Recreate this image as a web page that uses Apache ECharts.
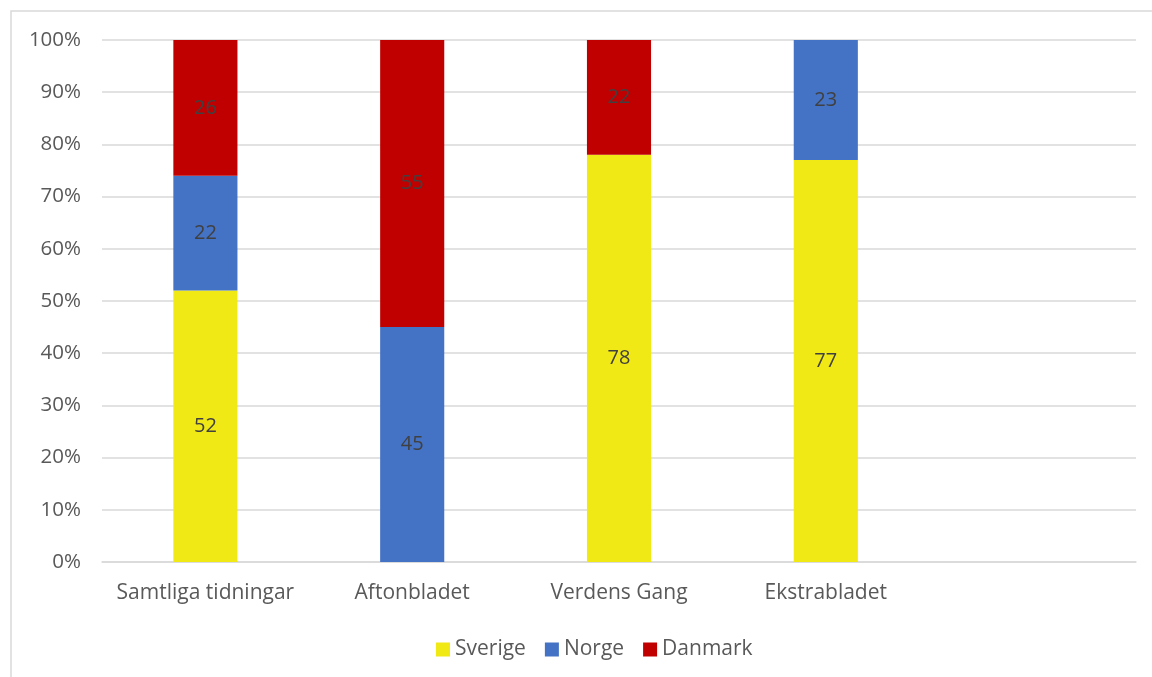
<!DOCTYPE html>
<html><head><meta charset="utf-8">
<script src="https://cdn.jsdelivr.net/npm/echarts@6/dist/echarts.min.js"></script>
<style>html,body{margin:0;padding:0;background:#fff;}#c{width:1152px;height:677px;}</style>
</head><body><div id="c"></div>
<script>
const categories = ['Samtliga tidningar', 'Aftonbladet', 'Verdens Gang', 'Ekstrabladet', ''];
const sverige = [52, null, 78, 77, null];
const norge = [22, 45, null, 23, null];
const danmark = [26, 55, 22, null, null];
const yTicks = [0, 10, 20, 30, 40, 50, 60, 70, 80, 90, 100];

const FONT = '"Open Sans", Lato, sans-serif';
const chart = echarts.init(document.getElementById('c'), null, {renderer: 'canvas'});
function mk(name, data, color) {
  return {
    name, type: 'bar', stack: 'a', data, barWidth: '31%',
    itemStyle: {color},
    label: {show: true, position: 'inside', color: '#404040', fontSize: 20, fontFamily: FONT,
      formatter: p => (p.value == null ? '' : p.value)}
  };
}
chart.setOption({
  animation: false,
  backgroundColor: '#fff',
  graphic: [{type: 'rect', shape: {x: 11, y: 11, width: 1160, height: 700},
    style: {fill: 'none', stroke: '#d9d9d9', lineWidth: 1.5}, silent: true}],
  grid: {left: 102, right: 16, top: 40, bottom: 115},
  legend: {left: 431, top: 634, itemWidth: 14, itemHeight: 14, itemGap: 19, icon: 'rect',
    textStyle: {color: '#595959', fontSize: 21, fontFamily: FONT, padding: [0, 0, 0, 0]},
    data: ['Sverige', 'Norge', 'Danmark']},
  xAxis: {type: 'category', data: categories,
    axisLine: {lineStyle: {color: '#d9d9d9', width: 1.5}}, axisTick: {show: false},
    axisLabel: {color: '#595959', fontSize: 21, fontFamily: FONT, margin: 21, interval: 0}},
  yAxis: {type: 'value', min: 0, max: 100, interval: 10,
    axisLine: {show: false}, axisTick: {show: false},
    splitLine: {lineStyle: {color: '#d9d9d9', width: 1.5}},
    axisLabel: {color: '#595959', fontSize: 20.5, fontFamily: FONT, margin: 21,
      formatter: v => yTicks.includes(v) ? v + '%' : ''}},
  series: [mk('Sverige', sverige, '#f0e916'), mk('Norge', norge, '#4472c4'), mk('Danmark', danmark, '#c00000')]
});
</script></body></html>
